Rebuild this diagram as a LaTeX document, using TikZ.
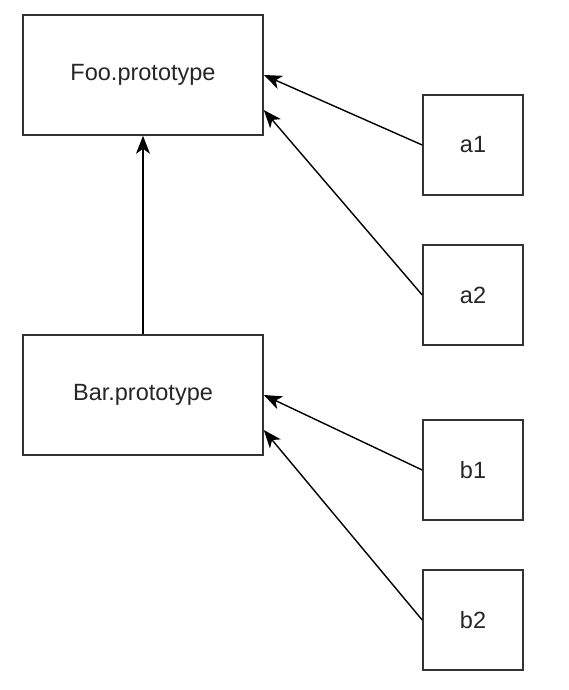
\documentclass[tikz,border=0pt]{standalone}
\usepackage{fontspec}
\setmainfont{Liberation Sans}
\usetikzlibrary{arrows.meta}
\begin{document}
\begin{tikzpicture}[x=1pt,y=-1pt,
  box/.style={draw=black!80, line width=1.6pt, fill=white, inner sep=0pt, font=\fontsize{23.5}{26}\selectfont, text=black!85},
  bigbox/.style={box, minimum width=240pt, minimum height=120pt},
  smallbox/.style={box, minimum width=100pt, minimum height=100pt},
  link/.style={draw=black, line width=1.4pt, -{Stealth[length=18pt,width=14pt,inset=5pt]}}]
\useasboundingbox (0,0) rectangle (568,690);
\node[bigbox] (foo) at (143,75) {Foo.prototype};
\node[bigbox] (bar) at (143,395) {Bar.prototype};
\node[smallbox] (a1) at (473,145) {a1};
\node[smallbox] (a2) at (473,295) {a2};
\node[smallbox] (b1) at (473,470) {b1};
\node[smallbox] (b2) at (473,620) {b2};
\coordinate (fooin) at ([yshift=-35pt]foo.east);
\coordinate (barin) at ([yshift=-35pt]bar.east);
\draw[link] (bar.north) -- (foo.south);
\draw[link] (a1.west) -- (foo.east);
\draw[link] (a2.west) -- (fooin);
\draw[link] (b1.west) -- (bar.east);
\draw[link] (b2.west) -- (barin);
\end{tikzpicture}
\end{document}
